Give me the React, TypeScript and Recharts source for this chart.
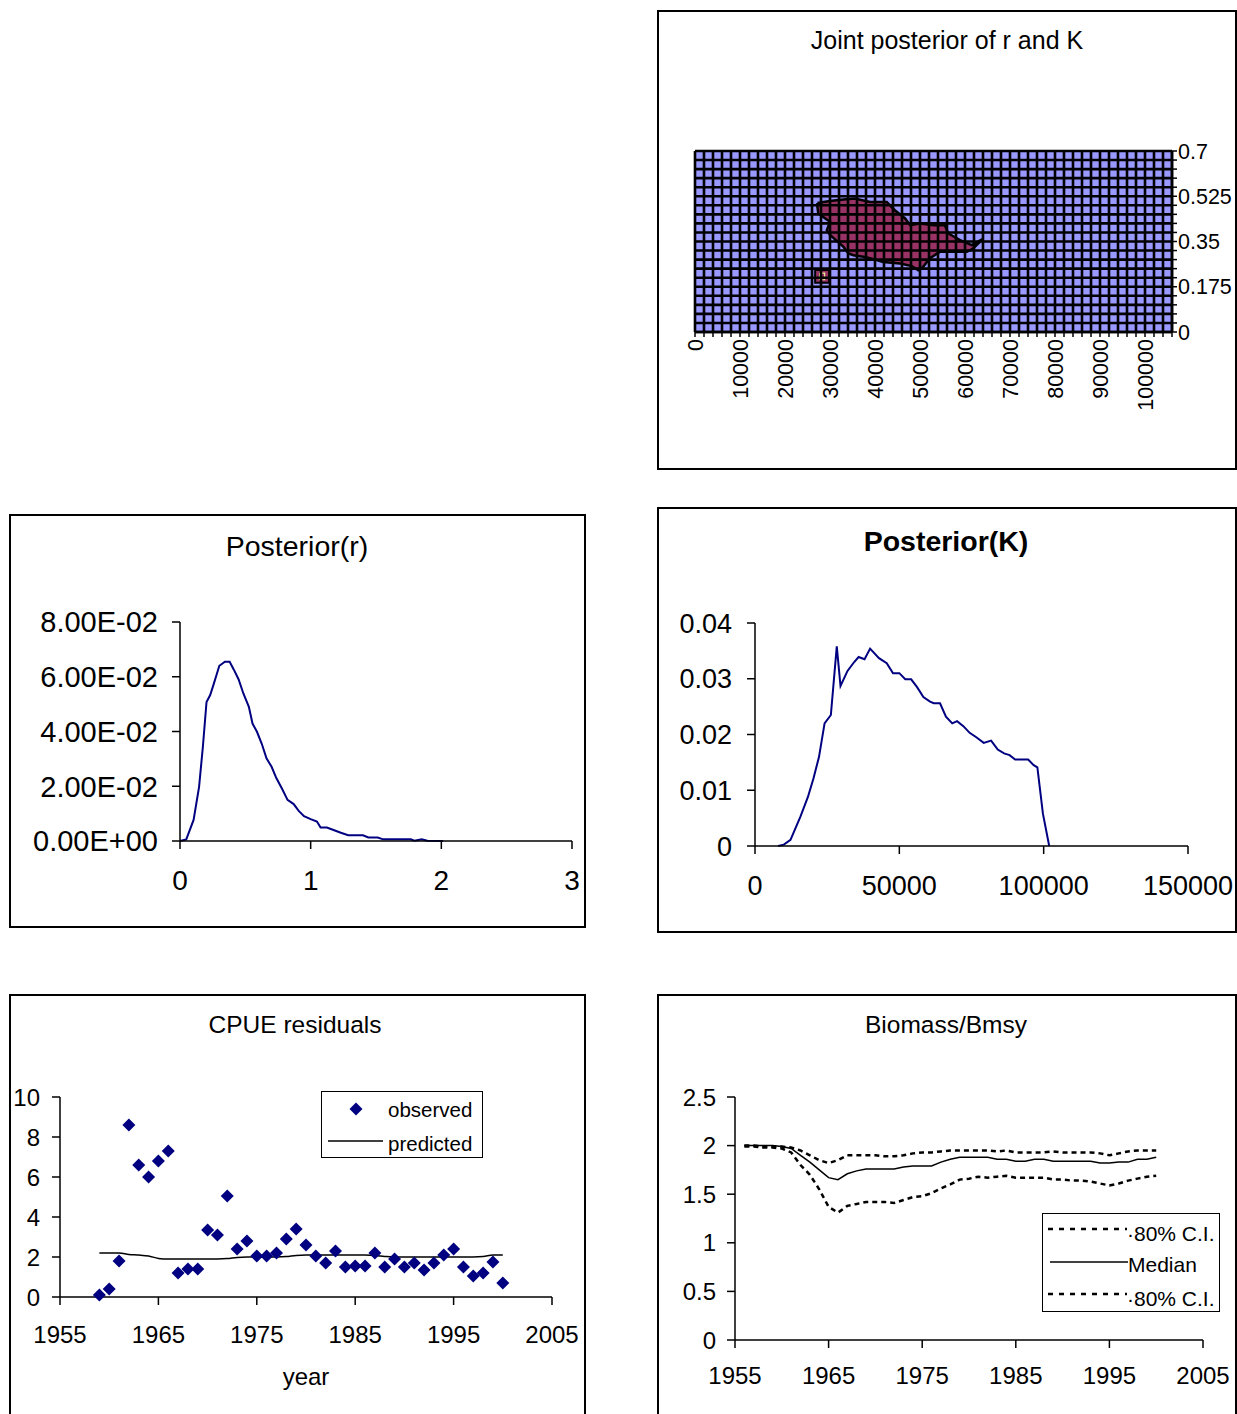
import React from 'react';
import { ComposedChart, LineChart, ScatterChart, Line, Scatter, XAxis, YAxis, CartesianGrid } from 'recharts';

const FONT = '"Liberation Sans", Arial, Helvetica, sans-serif';
const NAVY = '#000080';
const BLUE = '#9999FF';
const PLUM = '#993366';

// ---------- Joint posterior of r and K ----------
const jointKTicks = Array.from({ length: 54 }, (_, i) => i * 2000);
const jointKTickLabels = ['0', '10000', '20000', '30000', '40000', '50000', '60000', '70000', '80000', '90000', '100000'];
const jointRTicks = Array.from({ length: 21 }, (_, i) => +(i * 0.035).toFixed(3));
const jointRTickLabels = ['0', '0.175', '0.35', '0.525', '0.7'];
const jointRegionK = [27200, 30000, 33000, 35500, 38900, 42600, 44400, 46700, 47800, 50000, 53000, 55500, 56300, 58900, 61500, 64000, 61800, 60400, 56700, 54400, 52200, 50700, 49600, 48200, 45600, 41800, 40400, 38900, 37400, 35200, 34100, 33000, 30000, 29300, 30000, 28500, 27400, 27200, 27200];
const jointRegionR = [0.499, 0.507, 0.512, 0.516, 0.503, 0.503, 0.471, 0.439, 0.413, 0.42, 0.413, 0.413, 0.381, 0.355, 0.336, 0.36, 0.323, 0.31, 0.31, 0.31, 0.285, 0.252, 0.239, 0.255, 0.265, 0.271, 0.278, 0.285, 0.291, 0.297, 0.304, 0.329, 0.375, 0.394, 0.426, 0.445, 0.458, 0.484, 0.499];
const jointIslandK = [26700, 29800, 29800, 26700, 26700];
const jointIslandR = [0.24, 0.24, 0.19, 0.19, 0.24];
const jointIslandInnerK = [27700, 28800, 28800, 27700, 27700];
const jointIslandInnerR = [0.228, 0.228, 0.202, 0.202, 0.228];

// ---------- Posterior(r) ----------
const rValues = [0, 0.048, 0.104, 0.146, 0.175, 0.203, 0.231, 0.259, 0.301, 0.344, 0.38, 0.414, 0.448, 0.485, 0.527, 0.555, 0.589, 0.625, 0.662, 0.701, 0.738, 0.78, 0.823, 0.87, 0.907, 0.949, 1.0, 1.048, 1.076, 1.124, 1.175, 1.231, 1.287, 1.344, 1.4, 1.442, 1.513, 1.555, 1.654, 1.766, 1.794, 1.85, 1.893, 2.014];
const rDensity = [0, 0.0006, 0.0077, 0.0198, 0.0344, 0.0508, 0.0533, 0.0575, 0.064, 0.0655, 0.0655, 0.0624, 0.0591, 0.0539, 0.049, 0.0429, 0.0399, 0.0356, 0.0302, 0.0271, 0.0229, 0.0192, 0.015, 0.0135, 0.0111, 0.0091, 0.008, 0.0071, 0.0049, 0.0049, 0.004, 0.003, 0.0021, 0.0021, 0.0021, 0.0013, 0.0013, 0.0006, 0.0006, 0.0006, 0.0001, 0.0006, 0.0001, 0];
const rAxisTicks = [0, 1, 2, 3];
const rDensityTicks = [0, 0.02, 0.04, 0.06, 0.08];
const rDensityTickLabels = ['0.00E+00', '2.00E-02', '4.00E-02', '6.00E-02', '8.00E-02'];

// ---------- Posterior(K) ----------
const kValues = [8000, 10000, 12300, 15770, 18330, 20250, 22180, 24100, 26280, 28330, 29620, 32050, 34360, 35900, 37950, 39870, 42950, 45640, 47820, 50000, 52050, 54100, 56150, 58330, 60640, 61920, 64100, 66150, 68330, 70000, 72180, 74360, 76670, 79230, 81790, 84100, 86280, 88200, 90120, 92430, 94620, 96540, 97820, 99740, 101920];
const kDensity = [0, 0.00024, 0.0011, 0.0053, 0.0088, 0.0121, 0.016, 0.022, 0.0235, 0.0358, 0.0287, 0.0314, 0.033, 0.0339, 0.0335, 0.0354, 0.0337, 0.0328, 0.031, 0.031, 0.0299, 0.0299, 0.0285, 0.0267, 0.0259, 0.0256, 0.0256, 0.0232, 0.022, 0.0224, 0.0215, 0.0203, 0.0195, 0.0185, 0.0189, 0.0173, 0.0166, 0.0163, 0.0155, 0.0155, 0.0155, 0.0145, 0.0141, 0.0058, 0];
const kAxisTicks = [0, 50000, 100000, 150000];
const kDensityTicks = [0, 0.01, 0.02, 0.03, 0.04];
const kDensityTickLabels = ['0', '0.01', '0.02', '0.03', '0.04'];

// ---------- CPUE residuals ----------
const cpueYears = [1959, 1960, 1961, 1962, 1963, 1964, 1965, 1966, 1967, 1968, 1969, 1970, 1971, 1972, 1973, 1974, 1975, 1976, 1977, 1978, 1979, 1980, 1981, 1982, 1983, 1984, 1985, 1986, 1987, 1988, 1989, 1990, 1991, 1992, 1993, 1994, 1995, 1996, 1997, 1998, 1999, 2000];
const cpueObserved = [0.1, 0.4, 1.8, 8.6, 6.6, 6.0, 6.8, 7.3, 1.2, 1.4, 1.4, 3.35, 3.1, 5.05, 2.4, 2.8, 2.05, 2.05, 2.2, 2.9, 3.4, 2.6, 2.05, 1.7, 2.3, 1.5, 1.55, 1.55, 2.2, 1.5, 1.9, 1.5, 1.7, 1.35, 1.7, 2.1, 2.4, 1.5, 1.05, 1.2, 1.75, 0.7];
const cpuePredicted = [2.2, 2.2, 2.2, 2.13, 2.1, 2.05, 1.93, 1.9, 1.9, 1.9, 1.9, 1.9, 1.9, 1.92, 1.98, 2.0, 2.0, 2.0, 2.0, 2.02, 2.08, 2.1, 2.1, 2.1, 2.1, 2.1, 2.1, 2.1, 2.08, 2.03, 2.0, 2.0, 2.0, 2.0, 2.0, 2.0, 2.0, 2.0, 2.0, 2.02, 2.1, 2.1];
const yearTicks = [1955, 1965, 1975, 1985, 1995, 2005];
const cpueTicks = [0, 2, 4, 6, 8, 10];

// ---------- Biomass/Bmsy ----------
const bioYears = [1956, 1957, 1958, 1959, 1960, 1961, 1962, 1963, 1964, 1965, 1966, 1967, 1968, 1969, 1970, 1971, 1972, 1973, 1974, 1975, 1976, 1977, 1978, 1979, 1980, 1981, 1982, 1983, 1984, 1985, 1986, 1987, 1988, 1989, 1990, 1991, 1992, 1993, 1994, 1995, 1996, 1997, 1998, 1999, 2000];
const bioMedian = [2.0, 2.0, 2.0, 2.0, 1.99, 1.97, 1.9, 1.83, 1.75, 1.67, 1.65, 1.71, 1.74, 1.76, 1.76, 1.76, 1.76, 1.78, 1.79, 1.79, 1.79, 1.83, 1.86, 1.88, 1.88, 1.88, 1.88, 1.86, 1.86, 1.84, 1.84, 1.86, 1.86, 1.84, 1.84, 1.84, 1.84, 1.84, 1.82, 1.82, 1.83, 1.83, 1.86, 1.86, 1.88];
const bioUpper = [2.0, 2.0, 1.99, 1.99, 1.99, 1.98, 1.95, 1.9, 1.85, 1.82, 1.85, 1.9, 1.9, 1.9, 1.9, 1.89, 1.89, 1.9, 1.92, 1.93, 1.93, 1.94, 1.95, 1.95, 1.95, 1.95, 1.95, 1.94, 1.95, 1.93, 1.93, 1.93, 1.93, 1.94, 1.93, 1.93, 1.93, 1.93, 1.92, 1.9, 1.92, 1.94, 1.95, 1.95, 1.95];
const bioLower = [1.99, 1.99, 1.98, 1.98, 1.97, 1.93, 1.8, 1.7, 1.55, 1.37, 1.31, 1.38, 1.4, 1.42, 1.42, 1.42, 1.41, 1.44, 1.47, 1.48, 1.51, 1.56, 1.6, 1.65, 1.66, 1.68, 1.67, 1.68, 1.69, 1.67, 1.67, 1.67, 1.67, 1.65, 1.65, 1.64, 1.64, 1.63, 1.61, 1.59, 1.61, 1.64, 1.66, 1.68, 1.69];
const bioTicks = [0, 0.5, 1, 1.5, 2, 2.5];

// ---------- built tables ----------
const jointRegion = jointRegionK.map((K, i) => ({ K, r: jointRegionR[i] }));
const jointIsland = jointIslandK.map((K, i) => ({ K, r: jointIslandR[i] }));
const jointIslandInner = jointIslandInnerK.map((K, i) => ({ K, r: jointIslandInnerR[i] }));
const jointCorners = [{ K: 0, r: 0 }];
const rData = rValues.map((r, i) => ({ r, d: rDensity[i] }));
const kData = kValues.map((K, i) => ({ K, d: kDensity[i] }));
const cpueObs = cpueYears.map((year, i) => ({ year, v: cpueObserved[i] }));
const cpuePred = cpueYears.map((year, i) => ({ year, v: cpuePredicted[i] }));
const bioData = bioYears.map((year, i) => ({ year, lo: bioLower[i], med: bioMedian[i], hi: bioUpper[i] }));

const labelFrom = (ticks: number[], labels: string[]) => (v: number) => {
  const i = ticks.findIndex((t) => Math.abs(t - v) < 1e-9);
  return i >= 0 ? labels[i] : '';
};

const jointYLabel = (v: number) => {
  const i = Math.round(v / 0.035);
  return i % 5 === 0 ? jointRTickLabels[i / 5] : '';
};

const JointXTick = (props: any) => {
  const { x, y, payload } = props;
  const i = Math.round(payload.value / 2000);
  const label = i % 5 === 0 ? jointKTickLabels[i / 5] : '';
  if (!label) return <g />;
  return (
    <text x={x} y={y} transform={`rotate(-90 ${x} ${y})`} textAnchor="end" dy="0.36em" fontSize={21.5} fill="#000">
      {label}
    </text>
  );
};

const Diamond = (props: any) => {
  const { cx, cy } = props;
  if (cx == null || cy == null) return <g />;
  return <polygon points={`${cx},${cy - 6.5} ${cx + 6.5},${cy} ${cx},${cy + 6.5} ${cx - 6.5},${cy}`} fill={NAVY} />;
};

const NoShape = () => <g />;

const Frame = ({ l, t, w, h }: { l: number; t: number; w: number; h: number }) => (
  <div style={{ position: 'absolute', left: l, top: t, width: w, height: h, border: '2px solid #000', boxSizing: 'border-box' }} />
);

const Title = ({ text, cx, cy, size, bold }: { text: string; cx: number; cy: number; size: number; bold?: boolean }) => (
  <div
    style={{
      position: 'absolute',
      left: cx - 300,
      width: 600,
      top: cy - size * 0.5,
      fontSize: size,
      lineHeight: `${size}px`,
      textAlign: 'center',
      fontWeight: bold ? 'bold' : 'normal',
      whiteSpace: 'nowrap',
      color: '#000',
    }}
  >
    {text}
  </div>
);

const abs = (l: number, t: number): React.CSSProperties => ({ position: 'absolute', left: l, top: t });

const axisLine = { stroke: '#000', strokeWidth: 1.5 };
const tickLine = { stroke: '#000', strokeWidth: 1.5 };

export default function App() {
  const jointMargin = { top: 91, right: 0, bottom: 28, left: 37 };
  return (
    <div style={{ position: 'absolute', left: 0, top: 0, width: 1237, height: 1414, overflow: 'hidden', background: '#fff', fontFamily: FONT, color: '#000' }}>
      <Frame l={657} t={10} w={580} h={460} />
      <Frame l={9} t={514} w={577} h={414} />
      <Frame l={657} t={507} w={580} h={426} />
      <Frame l={9} t={994} w={577} h={440} />
      <Frame l={657} t={994} w={580} h={440} />

      <Title text="Joint posterior of r and K" cx={947} cy={40} size={25} />
      <Title text="Posterior(r)" cx={297} cy={546} size={28.5} />
      <Title text="Posterior(K)" cx={946} cy={541} size={28.5} bold />
      <Title text="CPUE residuals" cx={295} cy={1025} size={24.5} />
      <Title text="Biomass/Bmsy" cx={946} cy={1025} size={24.5} />

      {/* Joint posterior: fill layer */}
      <div style={abs(658, 60)}>
        <ScatterChart width={579} height={400} margin={jointMargin}>
          <CartesianGrid horizontal={false} vertical={false} fill={BLUE} fillOpacity={1} stroke="none" />
          <XAxis type="number" dataKey="K" domain={[0, 106000]} ticks={jointKTicks} height={100} tick={false} axisLine={false} tickLine={false} interval={0} />
          <YAxis type="number" dataKey="r" domain={[0, 0.7]} ticks={jointRTicks} orientation="right" width={65} tick={false} axisLine={false} tickLine={false} interval={0} />
          <Scatter data={jointRegion} shape={NoShape} line={{ fill: PLUM, stroke: '#000', strokeWidth: 2.5 }} lineType="joint" isAnimationActive={false} />
          <Scatter data={jointIsland} shape={NoShape} line={{ fill: PLUM, stroke: '#000', strokeWidth: 2 }} lineType="joint" isAnimationActive={false} />
          <Scatter data={jointIslandInner} shape={NoShape} line={{ fill: 'none', stroke: '#e8e890', strokeWidth: 1.2 }} lineType="joint" isAnimationActive={false} />
        </ScatterChart>
      </div>
      {/* Joint posterior: grid + axes layer */}
      <div style={abs(658, 60)}>
        <ScatterChart width={579} height={400} margin={jointMargin}>
          <CartesianGrid stroke="#000" strokeWidth={2.6} fill="none" />
          <XAxis type="number" dataKey="K" domain={[0, 106000]} ticks={jointKTicks} height={100} interval={0} tickSize={5} tickMargin={2} tick={<JointXTick />} axisLine={{ stroke: '#000', strokeWidth: 2.5 }} tickLine={tickLine} />
          <YAxis type="number" dataKey="r" domain={[0, 0.7]} ticks={jointRTicks} orientation="right" width={65} interval={0} tickSize={5} tickMargin={1} tickFormatter={jointYLabel} tick={{ fontSize: 21.5, fill: '#000' }} axisLine={{ stroke: '#000', strokeWidth: 2.5 }} tickLine={tickLine} />
          <Scatter data={jointCorners} shape={NoShape} isAnimationActive={false} />
        </ScatterChart>
      </div>

      {/* Posterior(r) */}
      <div style={abs(10, 560)}>
        <LineChart width={575} height={360} margin={{ top: 62, right: 13, bottom: 19, left: 0 }} data={rData}>
          <XAxis type="number" dataKey="r" domain={[0, 3]} ticks={rAxisTicks} height={60} interval={0} tickSize={8} tickMargin={21} tick={{ fontSize: 28, fill: '#000' }} axisLine={axisLine} tickLine={tickLine} />
          <YAxis type="number" domain={[0, 0.08]} ticks={rDensityTicks} width={170} interval={0} tickSize={8} tickMargin={14} tickFormatter={labelFrom(rDensityTicks, rDensityTickLabels)} tick={{ fontSize: 29, fill: '#000' }} axisLine={axisLine} tickLine={tickLine} />
          <Line type="linear" dataKey="d" stroke={NAVY} strokeWidth={2} dot={false} isAnimationActive={false} />
        </LineChart>
      </div>

      {/* Posterior(K) */}
      <div style={abs(658, 570)}>
        <LineChart width={579} height={355} margin={{ top: 53, right: 49, bottom: 19, left: 0 }} data={kData}>
          <XAxis type="number" dataKey="K" domain={[0, 150000]} ticks={kAxisTicks} height={60} interval={0} tickSize={8} tickMargin={22} tick={{ fontSize: 27, fill: '#000' }} axisLine={axisLine} tickLine={tickLine} />
          <YAxis type="number" domain={[0, 0.04]} ticks={kDensityTicks} width={97} interval={0} tickSize={8} tickMargin={15} tickFormatter={labelFrom(kDensityTicks, kDensityTickLabels)} tick={{ fontSize: 27, fill: '#000' }} axisLine={axisLine} tickLine={tickLine} />
          <Line type="linear" dataKey="d" stroke={NAVY} strokeWidth={2} dot={false} isAnimationActive={false} />
        </LineChart>
      </div>

      {/* CPUE residuals */}
      <div style={abs(10, 1050)}>
        <ComposedChart width={575} height={364} margin={{ top: 47, right: 33, bottom: 17, left: 0 }}>
          <XAxis
            type="number"
            dataKey="year"
            domain={[1955, 2005]}
            ticks={yearTicks}
            height={100}
            interval={0}
            tickSize={8}
            tickMargin={21}
            tick={{ fontSize: 24, fill: '#000' }}
            axisLine={axisLine}
            tickLine={tickLine}
            label={{ value: 'year', position: 'insideBottom', offset: 12, fill: '#000', fontSize: 24 }}
          />
          <YAxis type="number" domain={[0, 10]} ticks={cpueTicks} width={50} interval={0} tickSize={8} tickMargin={12} tick={{ fontSize: 24, fill: '#000' }} axisLine={axisLine} tickLine={tickLine} />
          <Line data={cpuePred} type="monotone" dataKey="v" stroke="#000" strokeWidth={1.5} dot={false} isAnimationActive={false} />
          <Scatter data={cpueObs} dataKey="v" shape={Diamond} isAnimationActive={false} />
        </ComposedChart>
      </div>
      <div style={{ position: 'absolute', left: 321, top: 1091, width: 162, height: 67, border: '1.5px solid #000', boxSizing: 'border-box', background: '#fff' }}>
        <svg width={162} height={67} style={{ position: 'absolute', left: -1.5, top: -1.5 }}>
          <polygon points="35,11.5 41.5,18 35,24.5 28.5,18" fill={NAVY} />
          <text x={67} y={26} fontSize={20.5} fill="#000">observed</text>
          <line x1={7} y1={50} x2={62} y2={50} stroke="#000" strokeWidth={1.5} />
          <text x={67} y={60} fontSize={20.5} fill="#000">predicted</text>
        </svg>
      </div>

      {/* Biomass/Bmsy */}
      <div style={abs(658, 1050)}>
        <LineChart width={579} height={364} margin={{ top: 47, right: 34, bottom: 14, left: 0 }} data={bioData}>
          <XAxis type="number" dataKey="year" domain={[1955, 2005]} ticks={yearTicks} height={60} interval={0} tickSize={8} tickMargin={19} tick={{ fontSize: 24, fill: '#000' }} axisLine={axisLine} tickLine={tickLine} />
          <YAxis type="number" domain={[0, 2.5]} ticks={bioTicks} width={77} interval={0} tickSize={8} tickMargin={11} tick={{ fontSize: 24, fill: '#000' }} axisLine={axisLine} tickLine={tickLine} />
          <Line type="linear" dataKey="hi" stroke="#000" strokeWidth={2.5} strokeDasharray="5 4" dot={false} isAnimationActive={false} />
          <Line type="linear" dataKey="med" stroke="#000" strokeWidth={1.5} dot={false} isAnimationActive={false} />
          <Line type="linear" dataKey="lo" stroke="#000" strokeWidth={2.5} strokeDasharray="5 4" dot={false} isAnimationActive={false} />
        </LineChart>
      </div>
      <div style={{ position: 'absolute', left: 1042, top: 1213, width: 178, height: 99, border: '1.5px solid #000', boxSizing: 'border-box', background: '#fff' }}>
        <svg width={178} height={99} style={{ position: 'absolute', left: -1.5, top: -1.5 }}>
          <line x1={6} y1={16} x2={85} y2={16} stroke="#000" strokeWidth={2.5} strokeDasharray="5 6" />
          <text x={85} y={28} fontSize={21} fill="#000">·80% C.I.</text>
          <line x1={8} y1={49} x2={86} y2={49} stroke="#000" strokeWidth={1.5} />
          <text x={86} y={59} fontSize={21} fill="#000">Median</text>
          <line x1={6} y1={81} x2={85} y2={81} stroke="#000" strokeWidth={2.5} strokeDasharray="5 6" />
          <text x={85} y={93} fontSize={21} fill="#000">·80% C.I.</text>
        </svg>
      </div>
    </div>
  );
}
